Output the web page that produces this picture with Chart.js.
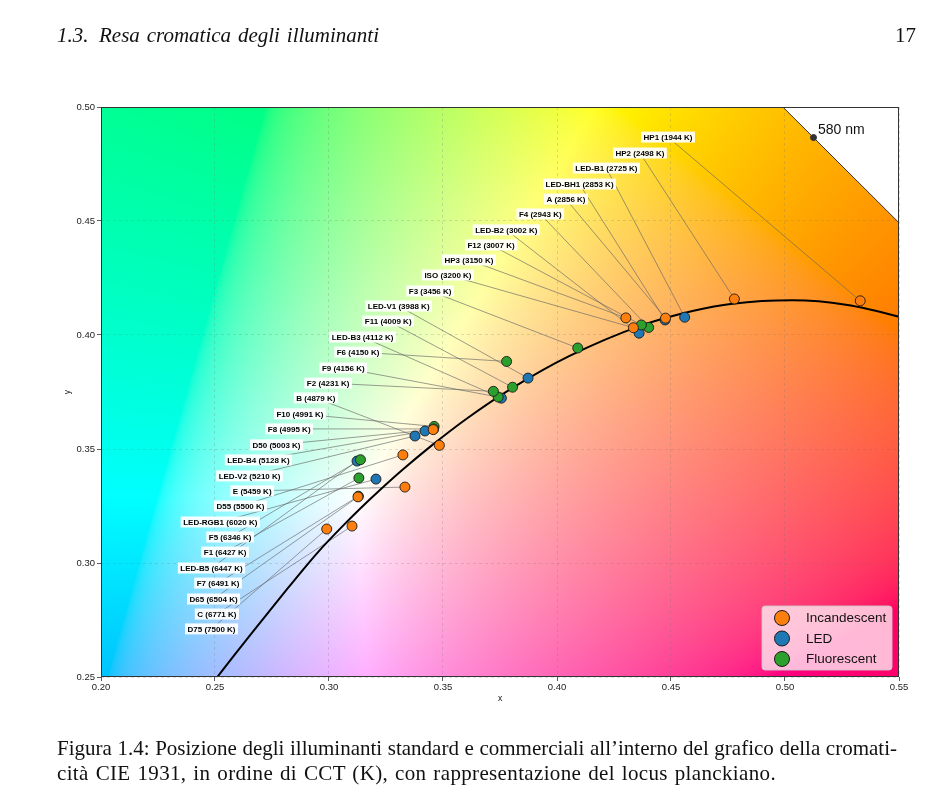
<!DOCTYPE html>
<html>
<head>
<meta charset="utf-8">
<script src="https://cdn.jsdelivr.net/npm/chart.js@4.4.1/dist/chart.umd.min.js"></script>
<style>
  body { margin: 0; width: 950px; height: 794px; overflow: hidden; position: relative; background: #fff; color: #111; font-family: 'Liberation Serif', 'DejaVu Serif', serif; }
  #chart { position: absolute; left: 0; top: 0; }
  .txt { position: absolute; font-size: 21px; line-height: 24px; white-space: nowrap; z-index: 2; text-align: justify; text-align-last: justify; }
  .hdr { top: 23px; font-style: italic; }
  .pg { top: 23px; left: 895px; text-align: left; text-align-last: left; }
  .cap1 { top: 736px; left: 57px; width: 840px; }
  .cap2 { top: 761px; left: 57px; width: 719px; letter-spacing: 0.35px; }
</style>
</head>
<body>
<div class="txt hdr" style="left:57px">1.3.</div>
<div class="txt hdr" style="left:99px; width:280px">Resa cromatica degli illuminanti</div>
<div class="txt pg">17</div>
<canvas id="chart" width="950" height="794"></canvas>
<div class="txt cap1">Figura 1.4: Posizione degli illuminanti standard e commerciali all’interno del grafico della cromati-</div>
<div class="txt cap2">cità CIE 1931, in ordine di CCT (K), con rappresentazione del locus planckiano.</div>

<script>
// illuminants, sorted by CCT (same order as the labels)
const names = ['HP1', 'HP2', 'LED-B1', 'LED-BH1', 'A', 'F4', 'LED-B2', 'F12', 'HP3', 'ISO', 'F3',
  'LED-V1', 'F11', 'LED-B3', 'F6', 'F9', 'F2', 'B', 'F10', 'F8', 'D50', 'LED-B4', 'LED-V2', 'E',
  'D55', 'LED-RGB1', 'F5', 'F1', 'LED-B5', 'F7', 'D65', 'C', 'D75'];
const cct = [1944, 2498, 2725, 2853, 2856, 2943, 3002, 3007, 3150, 3200, 3456,
  3988, 4009, 4112, 4150, 4156, 4231, 4879, 4991, 4995, 5003, 5128, 5210, 5459,
  5500, 6020, 6346, 6427, 6447, 6491, 6504, 6771, 7500];
const kind = ['I', 'I', 'L', 'L', 'I', 'F', 'L', 'F', 'I', 'I', 'F',
  'L', 'F', 'L', 'F', 'F', 'F', 'I', 'F', 'F', 'I', 'L', 'L', 'I',
  'I', 'L', 'F', 'F', 'L', 'F', 'I', 'I', 'I'];
const pointX = [0.5330, 0.4778, 0.4560, 0.4474, 0.4476, 0.4402, 0.4360, 0.4370, 0.4302, 0.4335, 0.4091,
  0.3873, 0.3805, 0.3756, 0.3779, 0.3742, 0.3721, 0.3484, 0.3461, 0.3459, 0.3457, 0.3421, 0.3377, 0.3333,
  0.3324, 0.3206, 0.3138, 0.3131, 0.3123, 0.3129, 0.3127, 0.3101, 0.2990];
const pointY = [0.4150, 0.4158, 0.4078, 0.4066, 0.4074, 0.4033, 0.4008, 0.4044, 0.4075, 0.4032, 0.3943,
  0.3811, 0.3771, 0.3723, 0.3884, 0.3728, 0.3753, 0.3516, 0.3599, 0.3588, 0.3585, 0.3579, 0.3557, 0.3333,
  0.3474, 0.3368, 0.3453, 0.3373, 0.3447, 0.3293, 0.3290, 0.3162, 0.3149];

// where each label ends (right edge of its box), in data units
const labelX = [0.4605, 0.4482, 0.4364, 0.4259, 0.4136, 0.4031, 0.3925, 0.3825, 0.3732, 0.3636, 0.3548,
  0.3452, 0.3373, 0.3294, 0.3232, 0.3167, 0.3101, 0.3039, 0.2987, 0.2930, 0.2886, 0.2838, 0.2798, 0.2759,
  0.2728, 0.2697, 0.2671, 0.2649, 0.2632, 0.2618, 0.2610, 0.2605, 0.2601];
const labelY = [0.4868, 0.4798, 0.4732, 0.4662, 0.4596, 0.4531, 0.4461, 0.4395, 0.4329, 0.4263, 0.4193,
  0.4127, 0.4061, 0.3991, 0.3925, 0.3855, 0.3789, 0.3724, 0.3654, 0.3588, 0.3518, 0.3452, 0.3382, 0.3316,
  0.3250, 0.3180, 0.3114, 0.3048, 0.2978, 0.2912, 0.2842, 0.2776, 0.2711];

// planckian locus
const planckX = [0.2510, 0.2583, 0.2655, 0.2735, 0.2815, 0.2874, 0.2952, 0.3064, 0.3135, 0.3221, 0.3325,
  0.3451, 0.3608, 0.3805, 0.4053, 0.4369, 0.4599, 0.4770, 0.5033, 0.5267, 0.5496, 0.5607];
const planckY = [0.2500, 0.2594, 0.2685, 0.2785, 0.2884, 0.2956, 0.3048, 0.3166, 0.3237, 0.3318, 0.3411,
  0.3516, 0.3636, 0.3768, 0.3907, 0.4041, 0.4106, 0.4137, 0.4152, 0.4133, 0.4081, 0.4046];

// spectral locus, 565-590 nm
const locusX = [0.4087, 0.4441, 0.4788, 0.5125, 0.5448, 0.5752];
const locusY = [0.5896, 0.5547, 0.5202, 0.4866, 0.4544, 0.4242];
const markX = [0.5125];
const markY = [0.4866];
const markText = '580 nm';

const groups = [
  { key: 'I', label: 'Incandescent', color: '#ff7f0e', order: 0 },
  { key: 'L', label: 'LED', color: '#1f77b4', order: 2 },
  { key: 'F', label: 'Fluorescent', color: '#2ca02c', order: 1 }
];

const xTicks = [0.20, 0.25, 0.30, 0.35, 0.40, 0.45, 0.50, 0.55];
const yTicks = [0.25, 0.30, 0.35, 0.40, 0.45, 0.50];

const toXY = (xs, ys) => xs.map((v, i) => ({ x: v, y: ys[i] }));

// xy -> display colour, normalised to its brightest channel
function xyColour(x, y) {
  const X = x / y, Y = 1, Z = (1 - x - y) / y;
  let r = 3.2406 * X - 1.5372 * Y - 0.4986 * Z;
  let g = -0.9689 * X + 1.8758 * Y + 0.0415 * Z;
  let b = 0.0557 * X - 0.2040 * Y + 1.0570 * Z;
  r = Math.max(r, 0); g = Math.max(g, 0); b = Math.max(b, 0);
  const m = Math.max(r, g, b) || 1;
  const enc = v => {
    v = v / m;
    v = v <= 0.0031308 ? 12.92 * v : 1.055 * Math.pow(v, 1 / 2.4) - 0.055;
    return Math.round(Math.min(1, v) * 255);
  };
  return [enc(r), enc(g), enc(b)];
}

const cieBackground = {
  id: 'cieBackground',
  beforeDraw(chart) {
    const { ctx, chartArea: a, scales: { x, y } } = chart;
    const w = Math.round(a.right - a.left), h = Math.round(a.bottom - a.top);
    if (!this.img || this.img.width !== w || this.img.height !== h) {
      const off = document.createElement('canvas');
      off.width = w; off.height = h;
      const octx = off.getContext('2d');
      const data = octx.createImageData(w, h);
      for (let j = 0; j < h; j++) {
        const cy = y.getValueForPixel(a.top + j + 0.5);
        for (let i = 0; i < w; i++) {
          const cx = x.getValueForPixel(a.left + i + 0.5);
          const c = xyColour(cx, cy);
          const k = (j * w + i) * 4;
          data.data[k] = c[0]; data.data[k + 1] = c[1]; data.data[k + 2] = c[2]; data.data[k + 3] = 255;
        }
      }
      octx.putImageData(data, 0, 0);
      this.img = off;
    }
    ctx.drawImage(this.img, a.left, a.top);
  }
};

const labelFont = 'bold 8px "Liberation Sans", Arial, sans-serif';
const boxPad = 2.5;

const annotations = {
  id: 'annotations',
  beforeDatasetsDraw(chart) {
    const { ctx, chartArea: a, scales: { x, y } } = chart;
    ctx.save();
    ctx.beginPath(); ctx.rect(a.left, a.top, a.right - a.left, a.bottom - a.top); ctx.clip();
    ctx.font = labelFont;
    ctx.strokeStyle = 'rgba(100,100,100,0.8)';
    ctx.lineWidth = 0.8;
    names.forEach((n, i) => {
      const txt = `${n} (${cct[i]} K)`;
      const w = ctx.measureText(txt).width + boxPad * 2;
      const rx = x.getPixelForValue(labelX[i]);
      const cy = y.getPixelForValue(labelY[i]);
      ctx.beginPath();
      ctx.moveTo(rx - w / 2, cy);
      ctx.lineTo(x.getPixelForValue(pointX[i]), y.getPixelForValue(pointY[i]));
      ctx.stroke();
    });
    ctx.restore();
  },
  afterDatasetsDraw(chart) {
    const { ctx, chartArea: a, scales: { x, y } } = chart;
    ctx.save();
    ctx.font = labelFont;
    ctx.textAlign = 'right';
    ctx.textBaseline = 'middle';
    names.forEach((n, i) => {
      const txt = `${n} (${cct[i]} K)`;
      const w = ctx.measureText(txt).width + boxPad * 2;
      const rx = x.getPixelForValue(labelX[i]);
      const cy = y.getPixelForValue(labelY[i]);
      ctx.fillStyle = 'rgba(255,255,255,0.92)';
      ctx.fillRect(rx - w, cy - 5.5, w, 11);
      ctx.fillStyle = '#000';
      ctx.fillText(txt, rx - boxPad, cy + 0.5);
    });

    // 580 nm tag
    ctx.font = '14px "Liberation Sans", Arial, sans-serif';
    ctx.textAlign = 'left';
    ctx.fillStyle = '#111';
    ctx.fillText(markText, x.getPixelForValue(markX[0]) + 4.5, y.getPixelForValue(markY[0]) - 7);

    // frame
    ctx.strokeStyle = '#333';
    ctx.lineWidth = 1;
    ctx.strokeRect(a.left + 0.5, a.top + 0.5, a.right - a.left - 1, a.bottom - a.top - 1);
    ctx.restore();
  },
  afterDraw(chart) {
    // legend box, lower right
    const { ctx, chartArea: a } = chart;
    const bw = 130, bh = 64;
    const bx = a.right - bw - 7, by = a.bottom - bh - 7;
    ctx.save();
    ctx.beginPath();
    ctx.roundRect(bx, by, bw, bh, 3);
    ctx.fillStyle = 'rgba(255,255,255,0.72)';
    ctx.fill();
    ctx.strokeStyle = 'rgba(200,200,200,0.9)';
    ctx.lineWidth = 1;
    ctx.stroke();
    ctx.font = '13.5px "Liberation Sans", Arial, sans-serif';
    ctx.textBaseline = 'middle';
    groups.forEach((g, i) => {
      const cy = by + 12 + i * 20.5;
      ctx.beginPath();
      ctx.arc(bx + 20, cy, 7.5, 0, Math.PI * 2);
      ctx.fillStyle = g.color;
      ctx.fill();
      ctx.strokeStyle = '#1a1a1a';
      ctx.lineWidth = 1;
      ctx.stroke();
      ctx.fillStyle = '#111';
      ctx.fillText(g.label, bx + 44, cy + 0.5);
    });
    ctx.restore();
  }
};

const pointSets = groups.map(g => {
  const idx = names.map((n, i) => i).filter(i => kind[i] === g.key);
  return {
    type: 'scatter',
    label: g.label,
    data: idx.map(i => ({ x: pointX[i], y: pointY[i] })),
    backgroundColor: g.color,
    borderColor: '#1a1a1a',
    borderWidth: 0.9,
    pointRadius: 5,
    order: g.order,
    clip: 0
  };
});

Chart.defaults.font.family = '"Liberation Sans", Arial, sans-serif';
Chart.defaults.color = '#222';

new Chart(document.getElementById('chart'), {
  type: 'scatter',
  data: {
    datasets: [
      ...pointSets,
      {
        type: 'line',
        label: 'Planck',
        data: toXY(planckX, planckY),
        borderColor: '#000',
        borderWidth: 2,
        pointRadius: 0,
        cubicInterpolationMode: 'monotone',
        fill: false,
        order: 3,
        clip: 0
      },
      {
        type: 'line',
        label: 'Spectral locus',
        data: toXY(locusX, locusY),
        borderColor: '#333',
        borderWidth: 1,
        backgroundColor: '#fff',
        pointRadius: 0,
        tension: 0,
        fill: 'end',
        order: 4,
        clip: 0
      },
      {
        type: 'scatter',
        label: '580 nm',
        data: toXY(markX, markY),
        backgroundColor: '#333',
        borderColor: '#333',
        pointRadius: 3,
        order: 0,
        clip: 0
      }
    ]
  },
  options: {
    responsive: false,
    devicePixelRatio: 1,
    animation: false,
    events: [],
    layout: { padding: { left: 55, top: 107, right: 51, bottom: 77 } },
    plugins: { legend: { display: false }, tooltip: { enabled: false } },
    scales: {
      x: {
        type: 'linear', min: 0.20, max: 0.55,
        afterBuildTicks: s => { s.ticks = xTicks.map(v => ({ value: v })); },
        afterFit: s => { s.height = 40; },
        ticks: { font: { size: 9.5 }, padding: 1, callback: v => v.toFixed(2), maxRotation: 0 },
        grid: { color: 'rgba(110,110,110,0.28)', lineWidth: 0.8, tickColor: '#333', tickLength: 4, tickBorderDash: [] },
        border: { display: false, dash: [3, 3] },
        title: { display: true, text: 'x', font: { size: 8.5 }, padding: { top: 0, bottom: 13 }, color: '#111' }
      },
      y: {
        type: 'linear', min: 0.25, max: 0.50,
        afterBuildTicks: s => { s.ticks = yTicks.map(v => ({ value: v })); },
        afterFit: s => { s.width = 46; },
        ticks: { font: { size: 9.5 }, padding: 2, callback: v => v.toFixed(2) },
        grid: { color: 'rgba(110,110,110,0.28)', lineWidth: 0.8, tickColor: '#333', tickLength: 4, tickBorderDash: [] },
        border: { display: false, dash: [3, 3] },
        title: { display: true, text: 'y', font: { size: 8.5 }, padding: { top: 8, bottom: 0 }, color: '#111' }
      }
    }
  },
  plugins: [cieBackground, annotations]
});
</script>
</body>
</html>
